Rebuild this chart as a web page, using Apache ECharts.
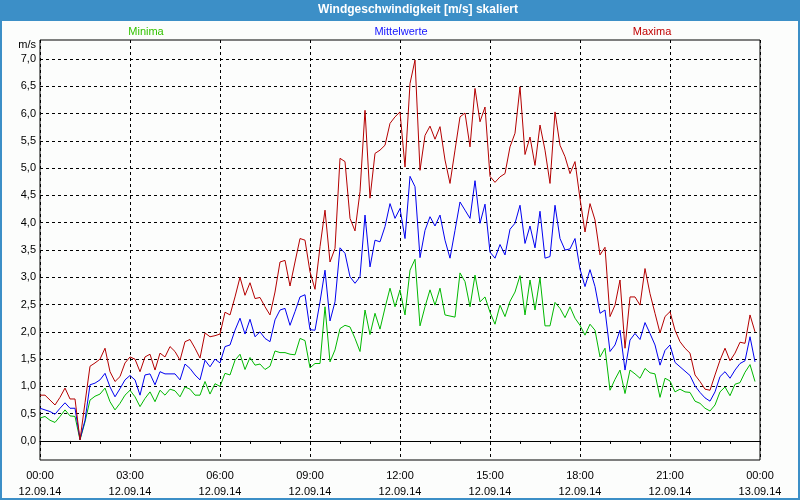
<!DOCTYPE html>
<html><head><meta charset="utf-8">
<script src="https://cdn.jsdelivr.net/npm/echarts@6/dist/echarts.min.js"></script>
<style>html,body{margin:0;padding:0;background:#fcfdfc}#c{width:800px;height:500px}</style>
</head><body><div id="c"></div><script>
// 10-minute values, 12.09.14 00:00 .. 23:50
const minima = [0.42,0.45,0.38,0.34,0.45,0.57,0.46,0.45,0.02,0.35,0.75,0.82,0.86,0.97,0.72,0.57,0.69,0.84,0.93,0.81,
0.63,0.78,0.9,0.72,0.93,0.84,0.95,0.92,0.81,0.99,0.95,0.84,0.84,1.09,0.86,1.05,1.0,1.24,1.21,1.48,
1.59,1.31,1.53,1.39,1.41,1.31,1.37,1.65,1.62,1.62,1.59,1.58,1.88,1.84,1.34,1.42,1.42,2.46,1.45,1.67,
2.06,2.12,2.09,1.88,1.64,2.4,1.95,2.34,2.05,2.44,2.8,2.46,2.77,2.31,3.13,3.33,2.11,2.46,2.77,2.49,
2.8,2.31,2.29,2.27,3.08,2.92,2.46,3.04,2.55,2.64,2.36,2.14,2.49,2.28,2.56,2.73,3.03,2.31,2.95,2.4,
2.99,2.11,2.11,2.54,2.43,2.26,2.46,2.25,2.12,1.94,2.14,2.03,1.54,1.7,0.93,1.13,1.3,0.87,1.3,1.23,
1.15,1.33,1.25,1.23,0.8,1.15,1.1,0.9,0.95,0.9,0.89,0.73,0.69,0.6,0.55,0.66,0.9,0.99,0.83,1.04,
1.07,1.26,1.4,1.09];
const mittelwerte = [0.6,0.57,0.54,0.49,0.6,0.7,0.6,0.6,0.03,0.38,1.03,1.06,1.12,1.24,0.99,0.81,0.96,1.12,1.2,1.12,
0.84,1.21,1.23,1.03,1.27,1.23,1.23,1.23,1.12,1.41,1.33,1.21,1.12,1.48,1.36,1.5,1.43,1.73,1.76,2.03,
2.25,1.96,2.23,1.91,2.0,1.88,1.82,2.22,2.4,2.43,2.12,2.37,2.64,2.68,2.04,2.03,2.55,3.13,2.2,2.55,
3.54,3.44,3.01,2.89,3.01,4.14,3.19,3.68,3.65,3.93,4.35,4.08,4.26,3.71,4.85,4.66,3.36,3.86,4.11,3.94,
4.14,3.68,3.35,3.86,4.38,4.23,4.08,4.77,3.99,4.34,3.46,3.35,3.6,3.41,3.88,3.99,4.32,3.62,3.94,3.54,
4.21,3.35,3.38,4.32,3.71,3.5,3.52,3.71,3.15,2.83,3.14,2.83,2.34,2.4,1.64,1.76,2.03,1.3,1.85,1.97,
1.86,2.17,1.97,1.76,1.39,1.66,1.76,1.44,1.36,1.28,1.2,1.01,0.89,0.79,0.73,0.9,1.18,1.27,1.15,1.3,
1.42,1.47,1.91,1.45];
const maxima = [0.84,0.84,0.75,0.66,0.8,0.97,0.77,0.77,0.02,0.7,1.37,1.43,1.5,1.7,1.27,1.09,1.18,1.43,1.54,1.5,
1.27,1.54,1.59,1.3,1.61,1.54,1.73,1.64,1.48,1.82,1.86,1.7,1.52,1.98,1.91,1.93,1.96,2.36,2.31,2.64,
3.0,2.67,2.9,2.61,2.63,2.46,2.31,2.73,3.28,3.31,2.84,3.28,3.71,3.68,3.1,2.78,3.56,4.23,3.28,3.53,
5.18,5.12,4.08,3.85,4.57,6.06,4.45,5.27,5.33,5.42,5.82,5.94,6.03,5.02,6.55,6.98,4.96,5.6,5.77,5.53,
5.76,5.15,4.72,5.33,5.94,6.01,5.39,6.46,5.85,6.12,4.85,4.74,4.84,4.9,5.39,5.64,6.49,5.25,5.57,5.05,
5.79,5.33,4.72,6.03,5.42,5.21,4.9,5.12,4.44,3.83,4.35,4.05,3.41,3.55,2.28,2.49,2.95,1.7,2.64,2.64,
2.49,3.16,2.7,2.34,1.98,2.28,2.37,2.03,1.82,1.7,1.61,1.21,1.09,0.95,0.93,1.21,1.48,1.7,1.47,1.61,
1.81,1.79,2.31,2.0];
const seriesNames = ['Minima','Mittelwerte','Maxima'];
const stepMinutes = 10;
const dayLabels = ['12.09.14','13.09.14'];

const F = 'Liberation Sans, Arial, sans-serif';
const toXY = arr => arr.map((v,i)=>[i*stepMinutes/60, v]);
const dash = {color:'#000', width:1, type:[3,3]};

const chart = echarts.init(document.getElementById('c'), null, {renderer:'canvas'});
chart.setOption({
  animation:false,
  backgroundColor:'#fcfdfc',
  grid:[
    {left:40,right:40,top:40,bottom:40,show:true,borderColor:'#000',borderWidth:1,backgroundColor:'transparent'},
    {left:40,right:40,top:59,bottom:59,show:false}
  ],
  xAxis:[
    {type:'value',gridIndex:0,min:0,max:24,interval:3,
     axisLine:{show:true,lineStyle:{color:'#000',width:1}},
     axisTick:{show:true,length:3,lineStyle:{color:'#000'}},
     minorTick:{show:true,splitNumber:3,length:3,lineStyle:{color:'#000'}},
     splitLine:{show:true,lineStyle:dash},
     axisLabel:{margin:8,color:'#000',fontFamily:F,fontSize:11,lineHeight:16,
       formatter:v=>{const h=v%24;return (h<10?'0':'')+h+':00\n'+(v<24?dayLabels[0]:dayLabels[1]);}}},
    {type:'value',gridIndex:1,min:0,max:24,show:false}
  ],
  yAxis:[
    {type:'value',gridIndex:0,min:-0.35,max:7.35,show:false},
    {type:'value',gridIndex:1,min:0,max:7,interval:0.5,
     axisLine:{show:false},axisTick:{show:false},
     splitLine:{show:true,lineStyle:dash},
     axisLabel:{margin:4,color:'#000',fontFamily:F,fontSize:11,
       formatter:v=>v.toFixed(1).replace('.',',')}}
  ],
  series:[
    {name:seriesNames[0],type:'line',xAxisIndex:1,yAxisIndex:1,data:toXY(minima),showSymbol:false,symbol:'none',
     lineStyle:{color:'#00b800',width:1},z:3},
    {name:seriesNames[1],type:'line',xAxisIndex:1,yAxisIndex:1,data:toXY(mittelwerte),showSymbol:false,symbol:'none',
     lineStyle:{color:'#0000f0',width:1},z:4},
    {name:seriesNames[2],type:'line',xAxisIndex:1,yAxisIndex:1,data:toXY(maxima),showSymbol:false,symbol:'none',
     lineStyle:{color:'#b40000',width:1},z:5}
  ],
  graphic:[
    {type:'rect',shape:{x:0,y:0,width:800,height:21},style:{fill:'#3c8fc7'},silent:true},
    {type:'rect',shape:{x:1,y:1,width:798,height:498},style:{fill:null,stroke:'#3c8fc7',lineWidth:2},silent:true},
    {type:'text',x:418,y:10,style:{text:'Windgeschwindigkeit [m/s] skaliert',fill:'#fff',font:'bold 12px '+F,textAlign:'center',textVerticalAlign:'middle'}},
    {type:'text',x:146,y:32,style:{text:seriesNames[0],fill:'#33c300',font:'11px '+F,textAlign:'center',textVerticalAlign:'middle'}},
    {type:'text',x:401,y:32,style:{text:seriesNames[1],fill:'#1414ff',font:'11px '+F,textAlign:'center',textVerticalAlign:'middle'}},
    {type:'text',x:652,y:32,style:{text:seriesNames[2],fill:'#c00000',font:'11px '+F,textAlign:'center',textVerticalAlign:'middle'}},
    {type:'text',x:36,y:45,style:{text:'m/s',fill:'#000',font:'11px '+F,textAlign:'right',textVerticalAlign:'middle'}}
  ]
});
</script></body></html>
